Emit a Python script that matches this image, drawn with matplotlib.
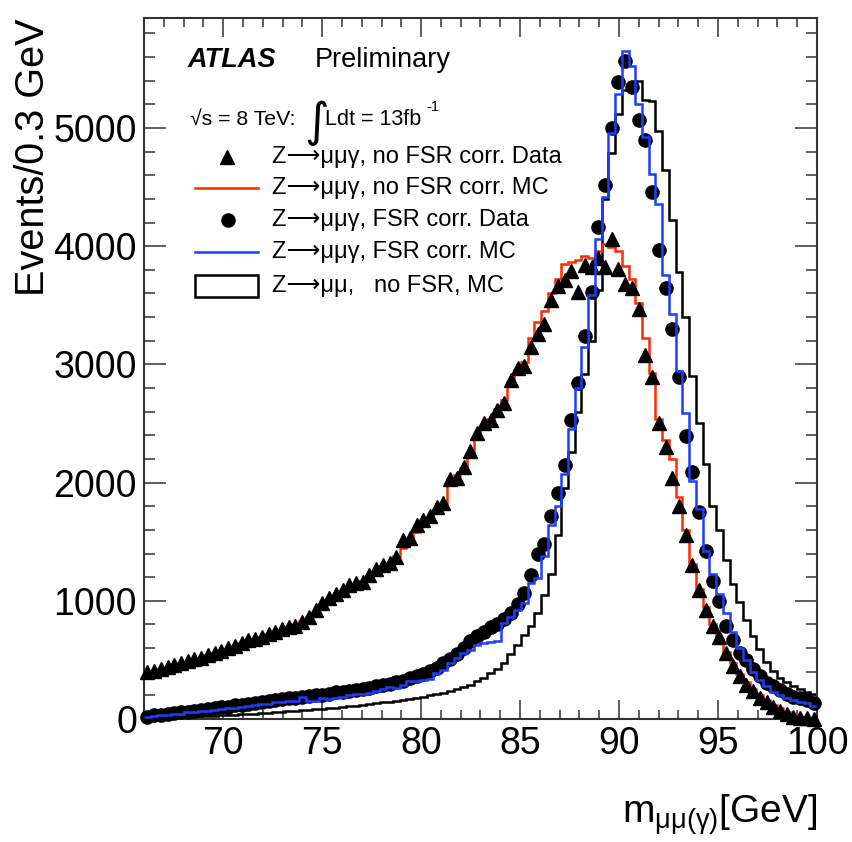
import numpy as np
import matplotlib
matplotlib.use("Agg")
import matplotlib.pyplot as plt
from matplotlib.lines import Line2D
from matplotlib.patches import Rectangle
from matplotlib.ticker import MultipleLocator

plt.rcParams['font.family'] = ['Liberation Sans', 'DejaVu Sans']
plt.rcParams['mathtext.fontset'] = 'custom'
plt.rcParams['mathtext.rm'] = 'Liberation Sans'
plt.rcParams['mathtext.it'] = 'Liberation Sans:italic'
plt.rcParams['mathtext.bf'] = 'Liberation Sans:bold'

# ---------------- data (100 bins of 0.34 GeV, 66-100 GeV) ----------------
x_min, x_max, n_bins = 66.0, 100.0, 100

nofsr_data = [400, 410, 420, 440, 455, 470, 490, 505, 520, 540,
              560, 575, 600, 620, 645, 670, 680, 695, 715, 735,
              760, 780, 790, 820, 860, 920, 980, 1020, 1060, 1090,
              1130, 1150, 1160, 1220, 1270, 1300, 1320, 1370, 1510, 1530,
              1640, 1680, 1720, 1790, 1830, 2030, 2040, 2130, 2270, 2420,
              2500, 2530, 2610, 2670, 2870, 2970, 2990, 3150, 3260, 3340,
              3545, 3660, 3710, 3790, 3610, 3840, 3820, 3900, 3820, 4060,
              3810, 3680, 3650, 3470, 3080, 2890, 2500, 2300, 2040, 1800,
              1560, 1300, 1090, 920, 790, 690, 560, 450, 360, 290,
              240, 180, 140, 100, 70, 40, 20, 10, 5, 0]

nofsr_mc = [390, 405, 420, 435, 450, 470, 485, 505, 520, 540,
            555, 575, 595, 615, 640, 660, 680, 695, 715, 735,
            755, 775, 800, 830, 860, 900, 960, 990, 1030, 1070,
            1110, 1140, 1170, 1200, 1240, 1280, 1320, 1380, 1450, 1500,
            1580, 1630, 1700, 1760, 1830, 2030, 2060, 2120, 2230, 2380,
            2480, 2540, 2620, 2700, 2850, 2950, 3020, 3220, 3360, 3450,
            3600, 3720, 3850, 3870, 3880, 3920, 3900, 3960, 4020, 3990,
            3960, 3830, 3720, 3520, 3220, 2930, 2540, 2360, 2200, 1880,
            1600, 1310, 1100, 950, 800, 680, 570, 470, 380, 310,
            250, 200, 160, 120, 90, 60, 40, 20, 10, 5]

fsr_data = [20, 30, 35, 45, 50, 55, 60, 70, 75, 85,
            90, 100, 105, 115, 120, 130, 135, 140, 150, 160,
            170, 175, 180, 185, 195, 200, 205, 215, 225, 230,
            240, 245, 255, 265, 275, 285, 300, 310, 325, 345,
            360, 380, 405, 430, 470, 510, 550, 600, 660, 700,
            740, 780, 800, 850, 900, 970, 1070, 1220, 1400, 1480,
            1720, 1910, 2150, 2530, 2840, 3240, 3610, 4160, 4520, 5000,
            5390, 5570, 5350, 5070, 4900, 4460, 3970, 3650, 3300, 2890,
            2390, 2090, 1750, 1420, 1170, 1000, 790, 670, 560, 500,
            420, 360, 305, 275, 245, 215, 190, 175, 160, 135]

fsr_mc = [20, 25, 30, 35, 40, 45, 55, 60, 65, 70,
          80, 85, 90, 95, 105, 110, 120, 125, 130, 140,
          145, 155, 150, 185, 150, 150, 175, 165, 180, 190,
          200, 210, 215, 220, 235, 250, 270, 265, 290, 320,
          325, 330, 340, 390, 415, 470, 515, 555, 585, 625,
          640, 655, 660, 810, 865, 920, 980, 1150, 1190, 1380,
          1645, 1800, 2070, 2450, 2800, 3150, 3590, 4060, 4420, 4960,
          5290, 5650, 5520, 5200, 4920, 4610, 4360, 3760, 3430, 2940,
          2590, 2010, 1780, 1420, 1230, 1060, 894, 740, 600, 500,
          400, 330, 275, 230, 205, 175, 160, 145, 133, 110]

zmumu_mc = [5, 8, 10, 12, 14, 16, 18, 20, 22, 25,
            27, 30, 33, 36, 39, 42, 45, 48, 52, 56,
            60, 64, 68, 72, 77, 82, 87, 92, 97, 102,
            108, 114, 120, 127, 134, 141, 148, 156, 164, 172,
            181, 190, 200, 211, 222, 235, 250, 268, 290, 320,
            350, 385, 425, 470, 550, 625, 710, 790, 900, 1050,
            1230, 1560, 1950, 2260, 2600, 2920, 3200, 3630, 4400, 4790,
            5120, 5320, 5390, 5400, 5240, 5230, 4970, 4640, 4220, 3780,
            3400, 2900, 2500, 2160, 1800, 1600, 1345, 1140, 990, 840,
            700, 590, 480, 410, 350, 310, 280, 255, 230, 210]

x_ticks = [70, 75, 80, 85, 90, 95, 100]
y_ticks = [0, 1000, 2000, 3000, 4000, 5000]

legend_labels = ["Z\u27f6\u03bc\u03bc\u03b3, no FSR corr. Data",
                 "Z\u27f6\u03bc\u03bc\u03b3, no FSR corr. MC",
                 "Z\u27f6\u03bc\u03bc\u03b3, FSR corr. Data",
                 "Z\u27f6\u03bc\u03bc\u03b3, FSR corr. MC",
                 "Z\u27f6\u03bc\u03bc,   no FSR, MC"]

x_label = "m$_{\\mathregular{\u03bc\u03bc(\u03b3)}}$[GeV]"

# ---------------- figure ----------------
W, H = 853, 842
fig = plt.figure(figsize=(W / 100, H / 100), dpi=100)
L, R, T, B = 144, 817, 18, 719
ax = fig.add_axes([L / W, 1 - B / H, (R - L) / W, (B - T) / H])

RED = '#ff2a00'
BLUE = '#1f3cff'

edges = np.linspace(x_min, x_max, n_bins + 1)
centers = 0.5 * (edges[:-1] + edges[1:])

ax.stairs(zmumu_mc, edges, baseline=None, color='black', lw=1.8, zorder=2)
ax.stairs(nofsr_mc, edges, baseline=None, color=RED, lw=1.8, zorder=3)
ax.plot(centers, nofsr_data, linestyle='none', marker='^', ms=9.5,
        color='black', zorder=4, clip_on=False)
ax.plot(centers, fsr_data, linestyle='none', marker='o', ms=9.5,
        color='black', zorder=5, clip_on=False)
ax.stairs(fsr_mc, edges, baseline=None, color=BLUE, lw=1.8, zorder=6)

ax.set_xlim(x_min, x_max)
ax.set_ylim(0, 5930)
ax.set_xticks(x_ticks)
ax.set_yticks(y_ticks)
ax.xaxis.set_minor_locator(MultipleLocator(1))
ax.yaxis.set_minor_locator(MultipleLocator(200))
ax.tick_params(which='both', direction='in', top=True, right=True,
               labelsize=27, width=1.1, color='#333333')
ax.tick_params(axis='x', which='major', length=13.5, pad=5)
ax.tick_params(axis='x', which='minor', length=6.5)
ax.tick_params(axis='y', which='major', length=15.5, pad=5)
ax.tick_params(axis='y', which='minor', length=8)
for s in ax.spines.values():
    s.set_linewidth(1.5)
    s.set_color('#333333')

ax.set_ylabel("Events/0.3 GeV", fontsize=28.5, loc='top')
ax.yaxis.set_label_coords(-0.136, 1.0)
ax.set_xlabel(x_label, fontsize=28, loc='right')
ax.xaxis.set_label_coords(1.0, -0.105)


def fx(px):
    return px / W


def fy(py):
    return 1 - py / H


# ATLAS label
fig.text(fx(188), fy(67), "ATLAS", fontsize=19.5, fontweight='bold', fontstyle='italic',
         va='baseline', ha='left')
fig.text(fx(315), fy(67), "Preliminary", fontsize=19.5, va='baseline', ha='left')

# luminosity line
fig.text(fx(190), fy(125), "\u221as = 8 TeV:", fontsize=15.3, va='baseline', ha='left')
fig.text(fx(304), fy(136), "\u222b", fontsize=34, va='baseline', ha='left',
         family=['DejaVu Sans'])
fig.text(fx(325), fy(125), "Ldt = 13fb", fontsize=15.5, va='baseline', ha='left')
fig.text(fx(426), fy(111), "-1", fontsize=10.5, va='baseline', ha='left')

# legend (manual, ROOT style)
tx = fx(272)
rows = [157, 188, 220, 252, 286]
fig.add_artist(Line2D([fx(227)], [fy(rows[0])], marker='^', ms=9.5, color='black',
                      linestyle='none'))
fig.add_artist(Line2D([fx(195), fx(258)], [fy(rows[1]), fy(rows[1])], color=RED, lw=1.8))
fig.add_artist(Line2D([fx(228)], [fy(rows[2])], marker='o', ms=9.5, color='black',
                      linestyle='none'))
fig.add_artist(Line2D([fx(195), fx(258)], [fy(rows[3]), fy(rows[3])], color=BLUE, lw=1.8))
fig.add_artist(Rectangle((fx(195), fy(297)), fx(258) - fx(195), fy(275) - fy(297),
                         transform=fig.transFigure, facecolor='white',
                         edgecolor='black', lw=1.8))
for r, lab in zip(rows, legend_labels):
    fig.text(tx, fy(r), lab, fontsize=17, va='center', ha='left')

fig.savefig("out.png", dpi=100)
